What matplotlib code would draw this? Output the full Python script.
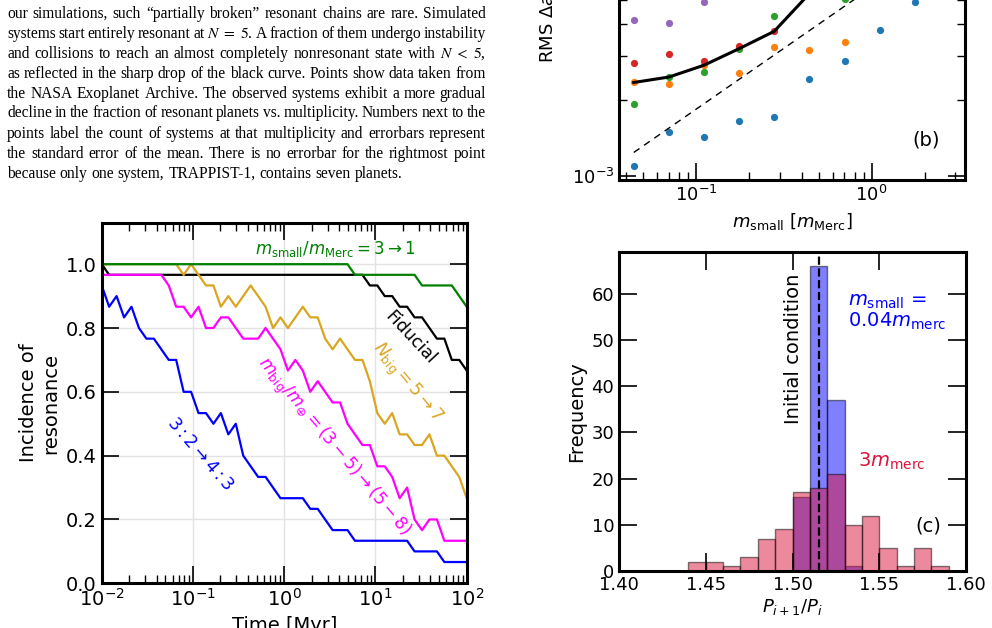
"""
Réplica de una página con tres paneles: texto del pie de figura, panel (b)
(RMS vs m_small), incidencia de resonancia vs tiempo y panel (c) (histograma).
"""

import re

import numpy as np
import matplotlib

matplotlib.use("Agg")
import matplotlib.pyplot as plt
from matplotlib.ticker import LogLocator, NullFormatter

W, H = 992, 628  # tamaño en píxeles (dpi = 100)

# --------------------------------------------------------------------------- #
# Datos
# --------------------------------------------------------------------------- #
PARAGRAPH = [
    "our simulations, such \u201cpartially broken\u201d resonant chains are rare. Simulated",
    r"systems start entirely resonant at $N\ =\ 5$. A fraction of them undergo instability",
    r"and collisions to reach an almost completely nonresonant state with $N\ <\ 5$,",
    "as reflected in the sharp drop of the black curve. Points show data taken from",
    "the NASA Exoplanet Archive. The observed systems exhibit a more gradual",
    "decline in the fraction of resonant planets vs. multiplicity. Numbers next to the",
    "points label the count of systems at that multiplicity and errorbars represent",
    "the standard error of the mean. There is no errorbar for the rightmost point",
    "because only one system, TRAPPIST-1, contains seven planets.",
]

# Panel (b): RMS vs m_small (unidades de 1e-3)
m_small = [0.0443, 0.0702, 0.111, 0.176, 0.279, 0.443, 0.702, 1.11, 1.76]
rms_blue = [1.10, 1.49, 1.43, 1.66, 1.71, 2.43, 2.87, 3.80, 4.92]
rms_orange = [2.35, 2.32, 2.75, 2.57, 3.24, 3.17, 3.41]
rms_green = [1.93, 2.47, 2.59, 3.20, 4.31, np.nan, 5.04]
rms_red = [2.80, 3.05, 2.86, 3.28, 3.75]
rms_purple = [4.17, 4.05, 4.89]
rms_mean = [2.35, 2.47, 2.75, 3.20, 3.75, 5.30]
guide_x = [0.0443, 1.0]
guide_y = [1.24, 5.6]

# Incidencia de resonancia: nº de sistemas resonantes (de 30) en 50 salidas
N_SYSTEMS = 30
count_fiducial = [30] + [29] * 35 + [28, 28, 27, 27, 26, 26, 25, 25, 24, 23, 23, 21, 21, 20]
count_nbig = [30] * 10 + [30, 29, 30, 29, 28, 28, 26, 27, 26, 27,
                          28, 27, 26, 24, 25, 24, 25, 26, 25, 25,
                          23, 22, 23, 22, 21, 21, 19, 16, 15, 16,
                          14, 14, 13, 13, 14, 12, 12, 11, 10, 8]
count_msmall = [30] * 34 + [29] * 9 + [28] * 5 + [27, 26]
count_mbig = [29, 29, 29, 29, 29, 29, 29, 29, 29, 28,
              26, 26, 25, 26, 24, 24, 25, 25, 24, 23,
              23, 23, 24, 23, 22, 20, 21, 20, 18, 19,
              18, 17, 17, 15, 14, 13, 13, 11, 11, 10,
              8, 9, 6, 5, 6, 6, 4, 4, 4, 4]
count_ratio = [28, 26, 27, 25, 26, 24, 23, 23, 22, 21,
               21, 18, 18, 16, 16, 15, 16, 14, 15, 12,
               11, 10, 10, 9, 8, 8, 8, 8, 7, 7,
               6, 5, 5, 5, 4, 4, 4, 4, 4, 4,
               4, 4, 3, 3, 3, 3, 2, 2, 2, 2]

# Panel (c): histograma de P_{i+1}/P_i
bin_edges = [1.44, 1.45, 1.46, 1.47, 1.48, 1.49, 1.50, 1.51,
             1.52, 1.53, 1.54, 1.55, 1.56, 1.57, 1.58, 1.59]
hist_small = [0, 0, 0, 0, 0, 0, 16, 66, 37, 1, 0, 0, 0, 0, 0]
hist_big = [2, 2, 1, 3, 7, 9, 17, 18, 21, 10, 12, 5, 1, 5, 1]
initial_ratio = 1.515


# --------------------------------------------------------------------------- #
# Utilidades
# --------------------------------------------------------------------------- #
def style_axes(ax, major=12, minor=6):
    for s in ax.spines.values():
        s.set_linewidth(2.2)
    ax.tick_params(which="both", direction="in", top=True, right=True)
    ax.tick_params(which="major", length=major, width=1.2)
    ax.tick_params(which="minor", length=minor, width=1.0)


def px_axes(fig, left, top, right, bottom):
    """Crea un eje a partir de sus bordes en píxeles (origen arriba-izquierda)."""
    return fig.add_axes([left / W, 1 - bottom / H, (right - left) / W, (bottom - top) / H])


def draw_paragraph(fig, lines, x0, x1, y0, dy, size):
    """Texto justificado: coloca palabra a palabra midiendo su ancho."""
    renderer = fig.canvas.get_renderer()
    kw = dict(fontsize=size, family="Liberation Serif", math_fontfamily="stix")
    probe = fig.text(0, 0, "x x", **kw)
    probe2 = fig.text(0, 0, "xx", **kw)
    space = probe.get_window_extent(renderer).width - probe2.get_window_extent(renderer).width
    probe.remove()
    probe2.remove()
    for i, line in enumerate(lines):
        # las fórmulas $...$ cuentan como una sola palabra
        words = re.findall(r"\$[^$]*\$\S*|\S+", line)
        texts = [fig.text(0, 0, w, **kw) for w in words]
        widths = [t.get_window_extent(renderer).width for t in texts]
        last = i == len(lines) - 1
        gap = space if last else (x1 - x0 - sum(widths)) / (len(words) - 1)
        x = x0
        y = y0 + i * dy
        for t, w in zip(texts, widths):
            t.set_position((x / W, 1 - y / H))
            x += w + gap


# --------------------------------------------------------------------------- #
# Figura
# --------------------------------------------------------------------------- #
fig = plt.figure(figsize=(W / 100, H / 100), dpi=100)

draw_paragraph(fig, PARAGRAPH, 7, 486, 17.5, 20, 11.2)

# ---- Panel (b) ----
axb = px_axes(fig, 619, -76, 965, 180)
style_axes(axb, major=12, minor=6)
axb.set_xscale("log")
axb.set_yscale("log")
scale = 1e-3
for vals, c in [(rms_blue, "#1f77b4"), (rms_orange, "#ff7f0e"), (rms_green, "#2ca02c"),
                (rms_red, "#d62728"), (rms_purple, "#9467bd")]:
    axb.plot(m_small[: len(vals)], np.array(vals) * scale, "o", color=c, ms=5.2, mec="none")
axb.plot(m_small[: len(rms_mean)], np.array(rms_mean) * scale, color="k", lw=2.2)
axb.plot(guide_x, np.array(guide_y) * scale, "k--", lw=1, dashes=(5, 4))
axb.set_xlim(0.0365, 3.4)
axb.set_ylim(0.964e-3, 1e-2)
axb.yaxis.set_minor_formatter(NullFormatter())
axb.tick_params(labelsize=13)
axb.set_xlabel(r"$m_{\rm small}$ [$m_{\rm Merc}$]", fontsize=13, labelpad=4)
axb.text(2.05, 1.39e-3, "(b)", fontsize=14, ha="center", va="center")
fig.text(548 / W, 1 - 63 / H, r"RMS $\Delta a/a$", rotation=90, ha="center",
         va="bottom", fontsize=13)

# ---- Incidencia de resonancia ----
axa = px_axes(fig, 101.7, 222.7, 466.7, 583.3)
style_axes(axa, major=12.5, minor=6)
t = np.logspace(-2, 2, 50)
axa.grid(True, which="major", color="#e3e3e3", lw=1)
axa.set_axisbelow(True)
series = [
    (count_fiducial, "k"),
    (count_nbig, "goldenrod"),
    (count_msmall, "green"),
    (count_mbig, "magenta"),
    (count_ratio, "blue"),
]
for counts, c in series:
    axa.plot(t, np.array(counts) / N_SYSTEMS, color=c, lw=1.6)
axa.set_xscale("log")
axa.set_xlim(1e-2, 1e2)
axa.set_ylim(0, 1.13)
axa.set_yticks([0.0, 0.2, 0.4, 0.6, 0.8, 1.0])
axa.xaxis.set_minor_locator(LogLocator(subs=np.arange(2, 10)))
axa.xaxis.set_minor_formatter(NullFormatter())
axa.tick_params(labelsize=14)
axa.set_xlabel("Time [Myr]", fontsize=14)
axa.set_ylabel("Incidence of\nresonance", fontsize=14)
axa.text(3.6, 1.048, r"$m_{\rm small}/m_{\rm Merc}=3\rightarrow1$", color="green",
         fontsize=12, ha="center", va="center")
axa.text(23.9, 0.771, "Fiducial", rotation=-47, fontsize=12.5, ha="center",
         va="center", rotation_mode="anchor")
axa.text(22, 0.627, r"$N_{\rm big}=5\rightarrow7$", rotation=-50, color="goldenrod",
         fontsize=12.5, ha="center", va="center", rotation_mode="anchor")
axa.text(3.45, 0.428, r"$m_{\rm big}/m_{\oplus}=(3-5)\rightarrow(5-8)$", rotation=-50,
         color="magenta", fontsize=12.5, ha="center", va="center", rotation_mode="anchor")
axa.text(0.119, 0.407, r"$3:2\rightarrow4:3$", rotation=-49, color="blue",
         fontsize=12.5, ha="center", va="center", rotation_mode="anchor")

# ---- Panel (c) ----
axc = px_axes(fig, 619, 252.3, 966, 571)
style_axes(axc, major=13, minor=6)
left = bin_edges[:-1]
axc.bar(left, hist_small, width=0.01, align="edge", color="blue", alpha=0.5,
        edgecolor="k", linewidth=1)
axc.bar(left, hist_big, width=0.01, align="edge", color="crimson", alpha=0.5,
        edgecolor="k", linewidth=1)
axc.axvline(initial_ratio, color="k", ls="--", lw=1.6)
axc.set_xlim(1.40, 1.60)
axc.set_ylim(0, 69)
axc.set_xticks([1.40, 1.45, 1.50, 1.55, 1.60])
axc.set_xticklabels(["1.40", "1.45", "1.50", "1.55", "1.60"])
axc.set_yticks([0, 10, 20, 30, 40, 50, 60])
axc.tick_params(labelsize=13)
axc.set_xlabel(r"$P_{i+1}/P_i$", fontsize=13, labelpad=2)
axc.set_ylabel("Frequency", fontsize=14)
axc.text(1.5005, 48.2, "Initial condition", rotation=90, ha="center", va="center",
         fontsize=14)
axc.text(1.532, 60.5, r"$m_{\rm small}$ =" + "\n" + r"$0.04m_{\rm merc}$", color="blue",
         fontsize=14, ha="left", va="top", linespacing=1.0)
axc.text(1.538, 23.7, r"$3m_{\rm merc}$", color="crimson", fontsize=14, va="center")
axc.text(1.578, 9.76, "(c)", fontsize=14, ha="center", va="center")

fig.savefig("out.png", dpi=100)
